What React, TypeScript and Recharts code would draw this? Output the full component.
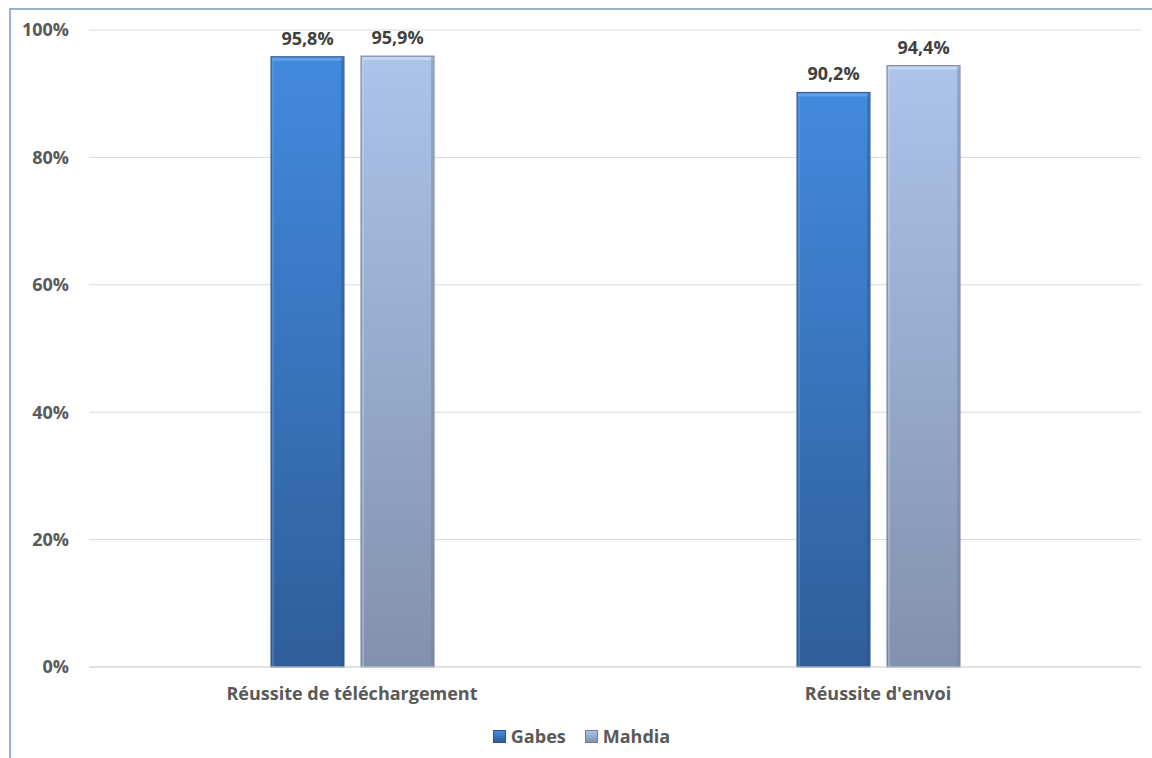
import React from 'react';
import { BarChart, Bar, XAxis, YAxis, CartesianGrid, Legend, LabelList } from 'recharts';

const categories = ['Réussite de téléchargement', "Réussite d'envoi"];
const gabes = [95.8, 90.2];
const mahdia = [95.9, 94.4];
const yTicks = [0, 20, 40, 60, 80, 100];

const data = categories.map((name, i) => ({ name, Gabes: gabes[i], Mahdia: mahdia[i] }));

const FONT = '"Open Sans", Lato, sans-serif';
const TEXT = '#595959';

const SERIES = [
  { key: 'Gabes', top: '#428ade', bottom: '#2f5e9a', edge: '#2a5288', hi: '#6aa5e8' },
  { key: 'Mahdia', top: '#abc4e9', bottom: '#8291ad', edge: '#6f7d98', hi: '#cbdcf3' },
];

const fmt = (v: number) => v.toFixed(1).replace('.', ',') + '%';

const BevelBar = (props: any) => {
  const { x, y, width, height, seriesIdx } = props;
  const s = SERIES[seriesIdx];
  if (!height || height <= 0) return null;
  return (
    <g>
      <rect x={x} y={y} width={width} height={height} fill={`url(#grad-${s.key})`} stroke={s.edge} strokeWidth={1} />
      <rect x={x + 1} y={y + 1} width={width - 2} height={3} fill={s.hi} opacity={0.8} />
      <rect x={x + 1} y={y + 1} width={2} height={height - 2} fill={s.hi} opacity={0.35} />
      <rect x={x + width - 3} y={y + 1} width={2} height={height - 2} fill={s.edge} opacity={0.4} />
    </g>
  );
};

const LegendContent = () => (
  <div style={{ display: 'flex', justifyContent: 'center', alignItems: 'center', height: 30, gap: 19, paddingLeft: 22, fontFamily: FONT, fontWeight: 700, fontSize: 18, color: TEXT }}>
    {SERIES.map((s) => (
      <div key={s.key} style={{ display: 'flex', alignItems: 'center', gap: 5 }}>
        <div style={{ width: 11, height: 11, background: `linear-gradient(${s.top}, ${s.bottom})`, border: `1px solid ${s.edge}` }} />
        <span>{s.key}</span>
      </div>
    ))}
  </div>
);

export default function App() {
  return (
    <div style={{ position: 'absolute', left: 0, top: 0, width: 1152, height: 758, background: '#fff', overflow: 'hidden' }}>
      <div style={{ position: 'absolute', left: 9, top: 8, width: 1200, height: 800, borderLeft: '2px solid #9bb1cc', borderTop: '2px solid #9bb1cc' }} />
      <BarChart
        width={1152}
        height={758}
        data={data}
        margin={{ top: 30, right: 11, left: 0, bottom: 7 }}
        barCategoryGap="34.5%"
        barGap={17}
        style={{ position: 'absolute', left: 0, top: 0 }}
      >
        <defs>
          {SERIES.map((s) => (
            <linearGradient key={s.key} id={`grad-${s.key}`} x1="0" y1="0" x2="0" y2="1">
              <stop offset="0%" stopColor={s.top} />
              <stop offset="100%" stopColor={s.bottom} />
            </linearGradient>
          ))}
        </defs>
        <CartesianGrid vertical={false} stroke="#d9d9d9" />
        <XAxis
          dataKey="name"
          height={54}
          axisLine={{ stroke: '#d9d9d9' }}
          tickLine={false}
          tickMargin={14}
          tick={{ fill: TEXT, fontFamily: FONT, fontWeight: 700, fontSize: 18 }}
        />
        <YAxis
          width={89}
          domain={[0, 100]}
          ticks={yTicks}
          interval={0}
          axisLine={false}
          tickLine={false}
          tickMargin={14}
          tickFormatter={(v: number) => `${v}%`}
          tick={{ fill: TEXT, fontFamily: FONT, fontWeight: 700, fontSize: 18 }}
        />
        <Legend verticalAlign="bottom" content={<LegendContent />} />
        {SERIES.map((s, i) => (
          <Bar key={s.key} dataKey={s.key} barSize={73} isAnimationActive={false} shape={(p: any) => <BevelBar {...p} seriesIdx={i} />}>
            <LabelList
              dataKey={s.key}
              position="top"
              offset={12}
              formatter={(v: any) => fmt(Number(v))}
              style={{ fill: '#404040', fontFamily: FONT, fontWeight: 700, fontSize: 18 }}
            />
          </Bar>
        ))}
      </BarChart>
    </div>
  );
}
